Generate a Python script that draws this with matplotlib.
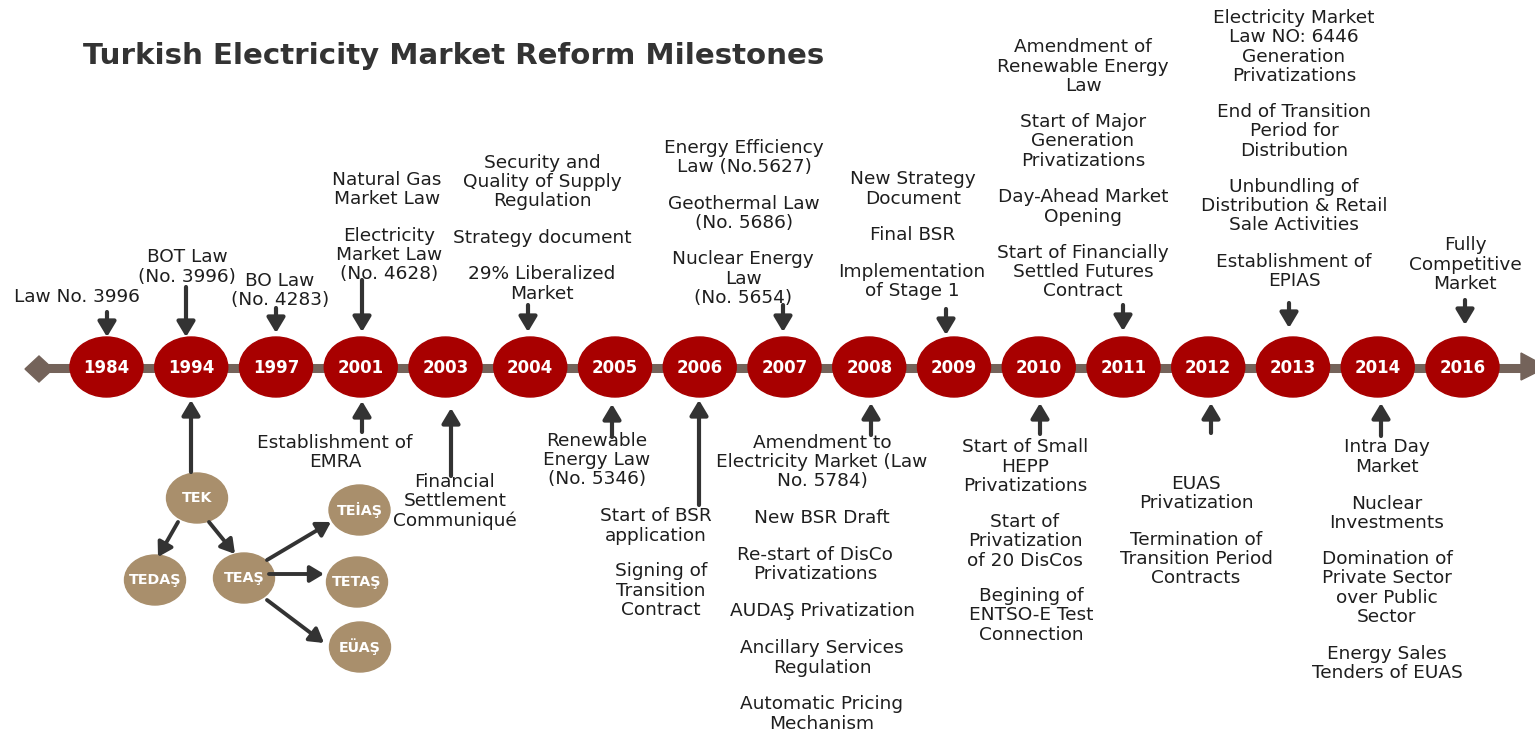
import matplotlib
matplotlib.use("Agg")
import matplotlib.pyplot as plt
from matplotlib.patches import Ellipse, Polygon, FancyArrowPatch

# ---------------- data ----------------
years = ["1984", "1994", "1997", "2001", "2003", "2004", "2005", "2006", "2007",
         "2008", "2009", "2010", "2011", "2012", "2013", "2014", "2016"]

title = "Turkish Electricity Market Reform Milestones"

# milestone text blocks: (year, side, text)
milestones = [
    ("1984", "above", "Law No. 3996"),
    ("1994", "above", "BOT Law\n(No. 3996)"),
    ("1997", "above", "BO Law\n(No. 4283)"),
    ("2001", "above", "Natural Gas\nMarket Law"),
    ("2001", "above", "Electricity\nMarket Law\n(No. 4628)"),
    ("2004", "above", "Security and\nQuality of Supply\nRegulation"),
    ("2004", "above", "Strategy document"),
    ("2004", "above", "29% Liberalized\nMarket"),
    ("2007", "above", "Energy Efficiency\nLaw (No.5627)"),
    ("2007", "above", "Geothermal Law\n(No. 5686)"),
    ("2007", "above", "Nuclear Energy\nLaw\n(No. 5654)"),
    ("2009", "above", "New Strategy\nDocument"),
    ("2009", "above", "Final BSR"),
    ("2009", "above", "Implementation\nof Stage 1"),
    ("2011", "above", "Amendment of\nRenewable Energy\nLaw"),
    ("2011", "above", "Start of Major\nGeneration\nPrivatizations"),
    ("2011", "above", "Day-Ahead Market\nOpening"),
    ("2011", "above", "Start of Financially\nSettled Futures\nContract"),
    ("2013", "above", "Electricity Market\nLaw NO: 6446\nGeneration\nPrivatizations"),
    ("2013", "above", "End of Transition\nPeriod for\nDistribution"),
    ("2013", "above", "Unbundling of\nDistribution & Retail\nSale Activities"),
    ("2013", "above", "Establishment of\nEPIAS"),
    ("2016", "above", "Fully\nCompetitive\nMarket"),
    ("2001", "below", "Establishment of\nEMRA"),
    ("2003", "below", "Financial\nSettlement\nCommuniqué"),
    ("2005", "below", "Renewable\nEnergy Law\n(No. 5346)"),
    ("2006", "below", "Start of BSR\napplication"),
    ("2006", "below", "Signing of\nTransition\nContract"),
    ("2008", "below", "Amendment to\nElectricity Market (Law\nNo. 5784)"),
    ("2008", "below", "New BSR Draft"),
    ("2008", "below", "Re-start of DisCo\nPrivatizations"),
    ("2008", "below", "AUDAŞ Privatization"),
    ("2008", "below", "Ancillary Services\nRegulation"),
    ("2008", "below", "Automatic Pricing\nMechanism"),
    ("2010", "below", "Start of Small\nHEPP\nPrivatizations"),
    ("2010", "below", "Start of\nPrivatization\nof 20 DisCos"),
    ("2010", "below", "Begining of\nENTSO-E Test\nConnection"),
    ("2012", "below", "EUAS\nPrivatization"),
    ("2012", "below", "Termination of\nTransition Period\nContracts"),
    ("2014", "below", "Intra Day\nMarket"),
    ("2014", "below", "Nuclear\nInvestments"),
    ("2014", "below", "Domination of\nPrivate Sector\nover Public\nSector"),
    ("2014", "below", "Energy Sales\nTenders of EUAS"),
]

# years with arrows pointing at the timeline
arrow_above_years = ["1984", "1994", "1997", "2001", "2004", "2007", "2009", "2011", "2013", "2016"]
arrow_below_years = ["1994", "2001", "2003", "2005", "2006", "2008", "2010", "2012", "2014"]

# organisation split of TEK (nodes and edges)
org_nodes = ["TEK", "TEDAŞ", "TEAŞ", "TEİAŞ", "TETAŞ", "EÜAŞ"]
org_edges = [("TEK", "TEDAŞ"), ("TEK", "TEAŞ"), ("TEAŞ", "TEİAŞ"),
             ("TEAŞ", "TETAŞ"), ("TEAŞ", "EÜAŞ")]

# ---------------- layout (pixel space) ----------------
W, H = 1535, 731
x0, dx = 106.5, 84.75
line_y = 367
year_x = {y: x0 + i * dx for i, y in enumerate(years)}

# centre of each text block (same order as milestones)
block_xy = [
    (77, 297), (187, 267), (280, 290.5), (387, 189.5), (389, 255),
    (542, 182), (542, 238), (542, 284),
    (744, 157.5), (744, 213.5), (743, 278.5),
    (913, 189), (913, 235), (912, 281.5),
    (1083, 66.5), (1083, 141.5), (1083, 207), (1083, 272),
    (1294, 47), (1294, 131.5), (1294, 206), (1294, 271.5),
    (1465, 264.5),
    (335, 452.5), (455, 501.5), (597, 460), (656, 526), (661, 590.5),
    (822, 462), (822, 518), (815, 564.5), (822, 611), (822, 658), (822, 714),
    (1025, 466.5), (1025, 541.5), (1031, 615.5),
    (1196, 493.5), (1196, 559),
    (1387, 457), (1387, 513.5), (1387, 588), (1387, 663.5),
]

# arrow extents (x, y_start, y_end)
arrow_above = {"1984": (107, 312, 337), "1994": (186, 287, 337), "1997": (276, 308, 333),
               "2001": (362, 280, 332), "2004": (528, 305, 332), "2007": (783, 305, 332),
               "2009": (946, 309, 335), "2011": (1123, 305, 331), "2013": (1289, 303, 328),
               "2016": (1465, 300, 325)}
arrow_below = {"1994": (191, 472, 400), "2001": (362, 432, 401), "2003": (451, 476, 408),
               "2005": (612, 437, 404), "2006": (699, 505, 400), "2008": (871, 435, 403),
               "2010": (1040, 434, 403), "2012": (1211, 433, 403), "2014": (1381, 436, 403)}

org_xy = {"TEK": (197, 498), "TEDAŞ": (155, 580), "TEAŞ": (244, 578),
          "TEİAŞ": (359.5, 510), "TETAŞ": (357, 582), "EÜAŞ": (360, 647)}
org_edge_pts = {("TEK", "TEDAŞ"): ((178, 522), (158, 557)),
                ("TEK", "TEAŞ"): ((209, 522), (235, 554)),
                ("TEAŞ", "TEİAŞ"): ((267, 560), (331, 522)),
                ("TEAŞ", "TETAŞ"): ((269, 574), (324, 574)),
                ("TEAŞ", "EÜAŞ"): ((267, 600), (324, 643))}

# ---------------- styles ----------------
RED = "#A80000"
TAN = "#A98F6C"
LINE = "#74635A"
TXT = "#1E1E1E"
ARR = "#333333"
FONT = "DejaVu Sans"

fig = plt.figure(figsize=(W / 100, H / 100), dpi=100)
ax = fig.add_axes([0, 0, 1, 1])
ax.set_xlim(0, W)
ax.set_ylim(H, 0)
ax.axis("off")

# title
ax.text(83, 56, title, fontsize=21.1, fontweight="bold", color="#333333",
        family=FONT, ha="left", va="center")

# timeline bar, start diamond and end arrow head
ax.plot([40, 1525], [line_y + 1, line_y + 1], color=LINE, lw=6.5, solid_capstyle="butt", zorder=1)
ax.add_patch(Polygon([(25, line_y + 2), (39, line_y - 11), (53, line_y + 2), (39, line_y + 15)],
                     closed=True, color=LINE, zorder=1))
ax.add_patch(Polygon([(1521, line_y - 14), (1521, line_y + 13), (1547, line_y)],
                     closed=True, color=LINE, zorder=1))

# year bubbles
for y in years:
    ax.add_patch(Ellipse((year_x[y], line_y), 73, 60, color=RED, zorder=2))
    ax.text(year_x[y], line_y + 1, y, color="white", fontsize=12, fontweight="bold",
            family=FONT, ha="center", va="center", zorder=3)

def arrow(p0, p1, lw=3.0, ms=12):
    ax.add_patch(FancyArrowPatch(p0, p1, arrowstyle="-|>,head_length=0.75,head_width=0.45",
                                 mutation_scale=ms, lw=lw, color=ARR, shrinkA=0, shrinkB=0,
                                 zorder=4))

for y in arrow_above_years:
    x, a, b = arrow_above[y]
    arrow((x, a), (x, b))
for y in arrow_below_years:
    x, a, b = arrow_below[y]
    arrow((x, a), (x, b))

# text blocks
for (yr, side, txt), (bx, by) in zip(milestones, block_xy):
    ax.text(bx, by, txt, fontsize=13.3, color=TXT, family=FONT, ha="center",
            va="center", multialignment="center", linespacing=1.08)

# organisation tree
for n in org_nodes:
    cx, cy = org_xy[n]
    ax.add_patch(Ellipse((cx, cy), 61, 50, color=TAN, zorder=2))
    ax.text(cx, cy, n, color="white", fontsize=10.3, fontweight="bold", family=FONT,
            ha="center", va="center", zorder=3)
for e in org_edges:
    p0, p1 = org_edge_pts[e]
    arrow(p0, p1, lw=2.8, ms=11)

fig.savefig("out.png", dpi=100, facecolor="white")
